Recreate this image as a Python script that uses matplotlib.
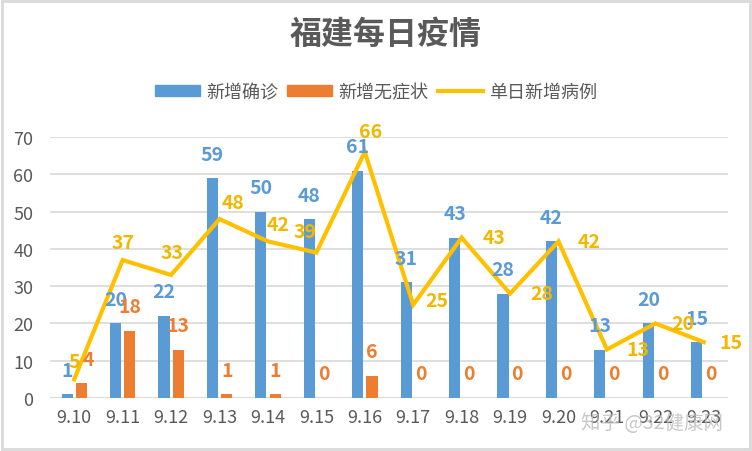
import numpy as np
import matplotlib
matplotlib.use("Agg")
import matplotlib.pyplot as plt
from matplotlib.patches import Patch, Rectangle
from matplotlib.lines import Line2D

plt.rcParams['font.family'] = ['Noto Sans CJK SC', 'DejaVu Sans']

dates = ["9.10", "9.11", "9.12", "9.13", "9.14", "9.15", "9.16",
         "9.17", "9.18", "9.19", "9.20", "9.21", "9.22", "9.23"]
confirmed = [1, 20, 22, 59, 50, 48, 61, 31, 43, 28, 42, 13, 20, 15]
asymptomatic = [4, 18, 13, 1, 1, 0, 6, 0, 0, 0, 0, 0, 0, 0]
daily_total = [5, 37, 33, 48, 42, 39, 66, 25, 43, 28, 42, 13, 20, 15]

# label offsets (pixels) for the line labels, as Excel placed them
line_label_offsets = [(0, 18), (0, 18), (1, 22), (14, 17), (10, 17), (-11, 21), (6, 20),
                      (24, 4), (32, 0), (32, 0), (31, 0), (31, 0), (27, 0), (27, 0)]
# the first orange label got pushed right a bit
asym_label_dx = [7, 0, 0, 0, 0, 0, 0, 0, 0, 0, 0, 0, 0, 0]

BLUE = '#5B9BD5'
ORANGE = '#ED7D31'
YELLOW = '#FFC000'
YELLOW_TXT = '#F0B800'
GRAY = '#595959'


def draw_chart():
    fig = plt.figure(figsize=(7.52, 4.52), dpi=100)
    ax = fig.add_axes([50 / 752, 53 / 452, 678 / 752, 261 / 452])

    x = np.arange(len(dates))
    w = 0.23
    ax.bar(x - 0.145, confirmed, width=w, color=BLUE, zorder=2)
    ax.bar(x + 0.15, asymptomatic, width=w, color=ORANGE, zorder=2)
    ax.plot(x, daily_total, color=YELLOW, linewidth=3, zorder=3, solid_joinstyle='miter')

    for i in range(len(dates)):
        ax.annotate(str(confirmed[i]), (x[i] - 0.145, confirmed[i]), xytext=(0, 24),
                    textcoords='offset pixels', ha='center', va='center',
                    color=BLUE, fontsize=14, fontweight='bold', zorder=4)
        ax.annotate(str(asymptomatic[i]), (x[i] + 0.15, asymptomatic[i]),
                    xytext=(asym_label_dx[i], 24),
                    textcoords='offset pixels', ha='center', va='center',
                    color=ORANGE, fontsize=14, fontweight='bold', zorder=4)
        dx, dy = line_label_offsets[i]
        ax.annotate(str(daily_total[i]), (x[i], daily_total[i]), xytext=(dx, dy),
                    textcoords='offset pixels', ha='center', va='center',
                    color=YELLOW_TXT, fontsize=14, fontweight='bold', zorder=5)

    ax.set_xlim(-0.5, len(dates) - 0.5)
    ax.set_ylim(0, 70)
    ax.set_yticks(range(0, 71, 10))
    ax.set_xticks(x)
    ax.set_xticklabels(dates)
    ax.yaxis.grid(True, color='#D9D9D9', linewidth=1.2, zorder=0)
    ax.set_axisbelow(True)
    for s in ax.spines.values():
        s.set_visible(False)
    ax.tick_params(axis='both', length=0, colors=GRAY, labelsize=13)
    ax.tick_params(axis='y', pad=12)
    ax.tick_params(axis='x', pad=7)
    ax.axhline(0, color='#D9D9D9', linewidth=1.2, zorder=1)

    fig.text(0.513, 1 - 35 / 452, "福建每日疫情", ha='center', va='center',
             fontsize=23, fontweight='bold', color=GRAY)

    handles = [Patch(color=BLUE), Patch(color=ORANGE), Line2D([], [], color=YELLOW, linewidth=3)]
    names = ["新增确诊", "新增无症状", "单日新增病例"]
    leg = fig.legend(handles, names, loc='center', bbox_to_anchor=(376 / 752, 1 - 93 / 452),
                     ncol=3, frameon=False, fontsize=13, handlelength=2.5, handleheight=0.6,
                     handletextpad=0.35, columnspacing=0.5)
    for t in leg.get_texts():
        t.set_color(GRAY)

    fig.text(652 / 752, 1 - 424 / 452, "知乎 @32健康网", ha='center', va='center',
             fontsize=14, color='#bbbbbb', alpha=0.8)

    fig.patches.append(Rectangle((0.002, 0.004), 0.995, 0.992, transform=fig.transFigure,
                                 fill=False, edgecolor='#D9D9D9', linewidth=2))
    fig.savefig("out.png", dpi=100)


def main():
    draw_chart()


if __name__ == "__main__":
    main()
